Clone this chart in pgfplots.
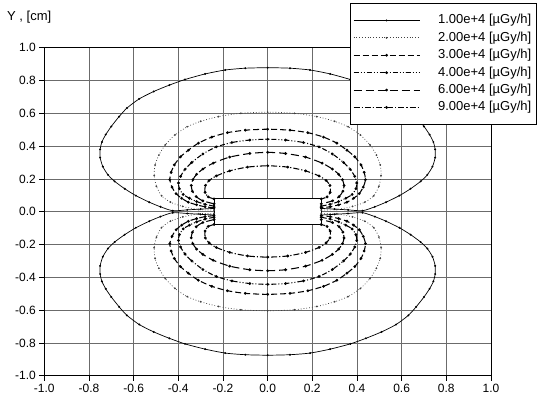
\documentclass[border=0pt]{standalone}
\usepackage{fontspec}
\setmainfont{Liberation Sans}
\usepackage{pgfplots}
\pgfplotsset{compat=1.18}
\pgfplotsset{
 c1/.style={black, line width=0.7pt, smooth, tension=0.4, mark=*, mark size=0.6pt, mark options={solid}},
 c2/.style={black!75, line width=0.7pt, smooth, tension=0.4, dash pattern=on 0.8pt off 2pt, mark=*, mark size=0.5pt, mark options={solid}},
 c3/.style={black, line width=1.05pt, smooth, tension=0.4, dash pattern=on 6pt off 3pt, mark=*, mark size=0.8pt, mark options={solid}},
 c4/.style={black, line width=1.05pt, smooth, tension=0.4, dash pattern=on 5pt off 2pt on 1pt off 2pt on 1pt off 2pt, mark=*, mark size=0.8pt, mark options={solid}},
 c6/.style={black, line width=1.05pt, smooth, tension=0.4, dash pattern=on 8pt off 4pt, mark=*, mark size=0.8pt, mark options={solid}},
 c9/.style={black, line width=1.05pt, smooth, tension=0.4, dash pattern=on 6pt off 2pt on 1.2pt off 2pt, mark=*, mark size=0.8pt, mark options={solid}},
}
\begin{document}
\begin{tikzpicture}
\begin{axis}[
  at={(0pt,0pt)}, anchor=south west,
  scale only axis, width=446.7pt, height=328pt,
  xmin=-1, xmax=1, ymin=-1, ymax=1,
  xtick={-1,-0.8,-0.6,-0.4,-0.2,0,0.2,0.4,0.6,0.8,1},
  ytick={-1,-0.8,-0.6,-0.4,-0.2,0,0.2,0.4,0.6,0.8,1},
  grid=major, major grid style={black!58, line width=0.7pt},
  axis line style={black, line width=0.8pt},
  tick pos=left, tick align=outside, major tick length=5pt,
  tick style={black, line width=0.7pt},
  ticklabel style={font=\fontsize{12}{14}\selectfont, /pgf/number format/fixed, /pgf/number format/fixed zerofill, /pgf/number format/precision=1, /pgf/number format/assume math mode=true},
  legend cell align=left,
  legend style={at={(1,1)}, anchor=north east, xshift=45.7pt, yshift=44.7pt, draw=black, line width=0.9pt, fill=white,
    font=\fontsize{13}{15}\selectfont, row sep=0.4pt, inner xsep=3pt, inner ysep=8.5pt,
    nodes={inner sep=2pt, text height=10pt, text depth=3pt},
    /tikz/every odd column/.append style={column sep=16pt}},
  legend image code/.code={\draw[mark repeat=2,mark phase=2,#1] plot coordinates {(0pt,0pt) (33pt,0pt) (66pt,0pt)};},
]
% 1.00e+4
\addplot[c1] coordinates {(-0.24,0.020) (-0.30,0.016) (-0.36,0.011) (-0.425,0.006) (-0.48,0.030) (-0.53,0.058) (-0.59,0.098) (-0.64,0.14) (-0.685,0.185) (-0.715,0.225) (-0.738,0.275) (-0.750,0.33) (-0.750,0.38) (-0.742,0.425) (-0.725,0.47) (-0.70,0.52) (-0.665,0.58) (-0.63,0.632) (-0.575,0.688) (-0.51,0.733) (-0.44,0.772) (-0.37,0.806) (-0.28,0.840) (-0.19,0.864) (-0.10,0.875) (0,0.878) (0.10,0.875) (0.19,0.864) (0.28,0.840) (0.37,0.806) (0.44,0.772) (0.51,0.733) (0.575,0.688) (0.63,0.632) (0.665,0.58) (0.70,0.52) (0.725,0.47) (0.742,0.425) (0.750,0.38) (0.750,0.33) (0.738,0.275) (0.715,0.225) (0.685,0.185) (0.64,0.14) (0.59,0.098) (0.53,0.058) (0.48,0.030) (0.425,0.006) (0.36,0.011) (0.30,0.016) (0.24,0.020)};
\addlegendentry{1.00e+4 [µGy/h]}
\addplot[c1, forget plot] coordinates {(-0.24,-0.020) (-0.30,-0.016) (-0.36,-0.011) (-0.425,-0.006) (-0.48,-0.030) (-0.53,-0.058) (-0.59,-0.098) (-0.64,-0.14) (-0.685,-0.185) (-0.715,-0.225) (-0.738,-0.275) (-0.750,-0.33) (-0.750,-0.38) (-0.742,-0.425) (-0.725,-0.47) (-0.70,-0.52) (-0.665,-0.58) (-0.63,-0.632) (-0.575,-0.688) (-0.51,-0.733) (-0.44,-0.772) (-0.37,-0.806) (-0.28,-0.838) (-0.19,-0.862) (-0.10,-0.872) (0,-0.875) (0.10,-0.872) (0.19,-0.862) (0.28,-0.838) (0.37,-0.806) (0.44,-0.772) (0.51,-0.733) (0.575,-0.688) (0.63,-0.632) (0.665,-0.58) (0.70,-0.52) (0.725,-0.47) (0.742,-0.425) (0.750,-0.38) (0.750,-0.33) (0.738,-0.275) (0.715,-0.225) (0.685,-0.185) (0.64,-0.14) (0.59,-0.098) (0.53,-0.058) (0.48,-0.030) (0.425,-0.006) (0.36,-0.011) (0.30,-0.016) (0.24,-0.020)};
% 2.00e+4
\addplot[c2] coordinates {(-0.24,0.010) (-0.31,0.013) (-0.38,0.032) (-0.435,0.058) (-0.475,0.097) (-0.498,0.155) (-0.508,0.22) (-0.504,0.285) (-0.487,0.345) (-0.458,0.408) (-0.415,0.468) (-0.36,0.518) (-0.30,0.551) (-0.22,0.580) (-0.12,0.600) (0,0.607) (0.12,0.600) (0.22,0.580) (0.30,0.551) (0.36,0.518) (0.415,0.468) (0.458,0.408) (0.487,0.345) (0.504,0.285) (0.508,0.22) (0.498,0.155) (0.475,0.097) (0.435,0.058) (0.38,0.032) (0.31,0.013) (0.24,0.010)};
\addlegendentry{2.00e+4 [µGy/h]}
\addplot[c2, forget plot] coordinates {(-0.24,-0.010) (-0.31,-0.013) (-0.38,-0.032) (-0.435,-0.058) (-0.475,-0.097) (-0.498,-0.155) (-0.508,-0.22) (-0.504,-0.285) (-0.487,-0.345) (-0.458,-0.408) (-0.415,-0.468) (-0.36,-0.518) (-0.30,-0.549) (-0.22,-0.578) (-0.12,-0.598) (0,-0.604) (0.12,-0.598) (0.22,-0.578) (0.30,-0.549) (0.36,-0.518) (0.415,-0.468) (0.458,-0.408) (0.487,-0.345) (0.504,-0.285) (0.508,-0.22) (0.498,-0.155) (0.475,-0.097) (0.435,-0.058) (0.38,-0.032) (0.31,-0.013) (0.24,-0.010)};
% 3.00e+4
\addplot[c3] coordinates {(-0.24,0.024) (-0.28,0.030) (-0.318,0.042) (-0.355,0.058) (-0.385,0.082) (-0.41,0.11) (-0.428,0.15) (-0.438,0.195) (-0.432,0.24) (-0.418,0.285) (-0.39,0.335) (-0.355,0.375) (-0.31,0.418) (-0.25,0.455) (-0.18,0.482) (-0.10,0.497) (0,0.503) (0.10,0.497) (0.18,0.482) (0.25,0.455) (0.31,0.418) (0.355,0.375) (0.39,0.335) (0.418,0.285) (0.432,0.24) (0.438,0.195) (0.428,0.15) (0.41,0.11) (0.385,0.082) (0.355,0.058) (0.318,0.042) (0.28,0.030) (0.24,0.024)};
\addlegendentry{3.00e+4 [µGy/h]}
\addplot[c3, forget plot] coordinates {(-0.24,-0.024) (-0.28,-0.030) (-0.318,-0.042) (-0.355,-0.058) (-0.385,-0.082) (-0.41,-0.11) (-0.428,-0.15) (-0.438,-0.195) (-0.432,-0.24) (-0.418,-0.285) (-0.39,-0.335) (-0.355,-0.375) (-0.31,-0.418) (-0.25,-0.455) (-0.18,-0.482) (-0.10,-0.498) (0,-0.504) (0.10,-0.498) (0.18,-0.482) (0.25,-0.455) (0.31,-0.418) (0.355,-0.375) (0.39,-0.335) (0.418,-0.285) (0.432,-0.24) (0.438,-0.195) (0.428,-0.15) (0.41,-0.11) (0.385,-0.082) (0.355,-0.058) (0.318,-0.042) (0.28,-0.030) (0.24,-0.024)};
% 4.00e+4
\addplot[c4] coordinates {(-0.24,0.034) (-0.28,0.045) (-0.318,0.062) (-0.35,0.082) (-0.378,0.105) (-0.395,0.14) (-0.399,0.175) (-0.39,0.215) (-0.37,0.258) (-0.34,0.30) (-0.29,0.352) (-0.23,0.395) (-0.16,0.422) (-0.08,0.437) (0,0.442) (0.08,0.437) (0.16,0.422) (0.23,0.395) (0.29,0.352) (0.34,0.30) (0.37,0.258) (0.39,0.215) (0.399,0.175) (0.395,0.14) (0.378,0.105) (0.35,0.082) (0.318,0.062) (0.28,0.045) (0.24,0.034)};
\addlegendentry{4.00e+4 [µGy/h]}
\addplot[c4, forget plot] coordinates {(-0.24,-0.034) (-0.28,-0.045) (-0.318,-0.062) (-0.35,-0.082) (-0.378,-0.105) (-0.395,-0.14) (-0.399,-0.175) (-0.39,-0.215) (-0.37,-0.258) (-0.34,-0.30) (-0.29,-0.352) (-0.23,-0.395) (-0.16,-0.422) (-0.08,-0.438) (0,-0.443) (0.08,-0.438) (0.16,-0.422) (0.23,-0.395) (0.29,-0.352) (0.34,-0.30) (0.37,-0.258) (0.39,-0.215) (0.399,-0.175) (0.395,-0.14) (0.378,-0.105) (0.35,-0.082) (0.318,-0.062) (0.28,-0.045) (0.24,-0.034)};
% 6.00e+4
\addplot[c6] coordinates {(-0.24,0.048) (-0.29,0.066) (-0.32,0.092) (-0.337,0.125) (-0.342,0.16) (-0.335,0.195) (-0.318,0.228) (-0.29,0.26) (-0.244,0.296) (-0.17,0.333) (-0.08,0.355) (0,0.362) (0.08,0.355) (0.17,0.333) (0.244,0.296) (0.29,0.26) (0.318,0.228) (0.335,0.195) (0.342,0.16) (0.337,0.125) (0.32,0.092) (0.29,0.066) (0.24,0.048)};
\addlegendentry{6.00e+4 [µGy/h]}
\addplot[c6, forget plot] coordinates {(-0.24,-0.048) (-0.29,-0.066) (-0.32,-0.092) (-0.337,-0.125) (-0.342,-0.16) (-0.335,-0.195) (-0.318,-0.228) (-0.29,-0.26) (-0.244,-0.296) (-0.17,-0.332) (-0.08,-0.354) (0,-0.360) (0.08,-0.354) (0.17,-0.332) (0.244,-0.296) (0.29,-0.26) (0.318,-0.228) (0.335,-0.195) (0.342,-0.16) (0.337,-0.125) (0.32,-0.092) (0.29,-0.066) (0.24,-0.048)};
% 9.00e+4
\addplot[c9] coordinates {(-0.24,0.078) (-0.266,0.09) (-0.28,0.118) (-0.279,0.16) (-0.262,0.19) (-0.23,0.218) (-0.17,0.249) (-0.09,0.272) (0,0.280) (0.09,0.272) (0.17,0.249) (0.23,0.218) (0.262,0.19) (0.279,0.16) (0.28,0.118) (0.266,0.09) (0.24,0.078)};
\addlegendentry{9.00e+4 [µGy/h]}
\addplot[c9, forget plot] coordinates {(-0.24,-0.078) (-0.266,-0.09) (-0.28,-0.118) (-0.279,-0.16) (-0.262,-0.19) (-0.23,-0.218) (-0.17,-0.248) (-0.09,-0.270) (0,-0.277) (0.09,-0.270) (0.17,-0.248) (0.23,-0.218) (0.262,-0.19) (0.279,-0.16) (0.28,-0.118) (0.266,-0.09) (0.24,-0.078)};
% source rectangle
\addplot[black, line width=1pt, fill=white, forget plot] coordinates {(-0.24,-0.08) (0.24,-0.08) (0.24,0.08) (-0.24,0.08)} -- cycle;
\end{axis}
\node[anchor=west, font=\fontsize{13}{15}\selectfont, inner sep=0pt] at ([shift={(-37.3pt,358.7pt)}]current axis.south west) {Y , [cm]};
\pgfresetboundingbox
\path[use as bounding box] ([shift={(-44.3pt,-26.3pt)}]current axis.south west) rectangle ++(544pt,402pt);
\end{tikzpicture}
\end{document}
